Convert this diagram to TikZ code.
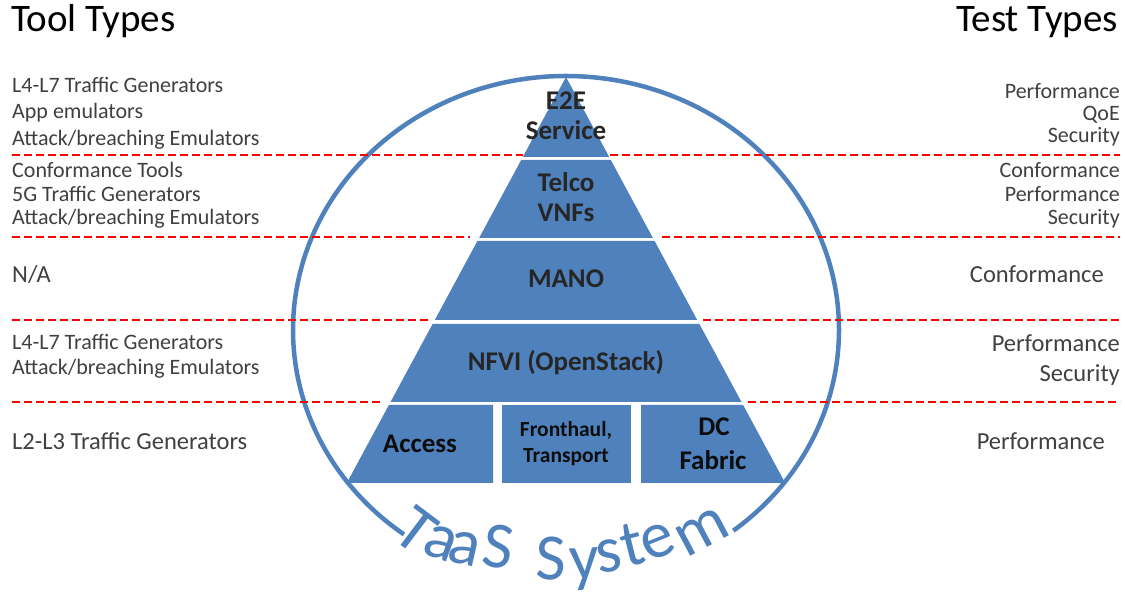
\documentclass[tikz,border=0pt]{standalone}
\usepackage{fontspec}
\setmainfont{Carlito}
\definecolor{pyr}{HTML}{4F81BD}
\definecolor{ring}{HTML}{4F81BD}
\definecolor{txtgray}{HTML}{404040}
\definecolor{pyrtxt}{HTML}{262626}
\definecolor{pyrdark}{HTML}{0D0D0D}
\begin{document}
\begin{tikzpicture}[x=1pt,y=1pt,
  lbl/.style={inner sep=0pt, text=txtgray, font=\fontsize{22}{26}\selectfont},
  big/.style={font=\fontsize{24.5}{29}\selectfont},
  lleft/.style={lbl, anchor=base west},
  lright/.style={lbl, anchor=base east},
  ttl/.style={inner sep=0pt, text=black, font=\fontsize{39}{46}\selectfont},
  layer/.style={fill=pyr, draw=none},
  ptxt/.style={inner sep=0pt, anchor=base, text=pyrtxt, font=\bfseries\fontsize{27}{31}\selectfont},
  pdark/.style={ptxt, text=pyrdark},
  psmall/.style={pdark, font=\bfseries\fontsize{21.5}{25}\selectfont},
  taas/.style={inner sep=0pt, anchor=base, text=ring, font=\fontsize{66}{66}\selectfont},
  sep/.style={draw=red, line width=2.2pt, dash pattern=on 8pt off 4pt}]
\useasboundingbox (0,0) rectangle (1125,592);
\fill[white] (0,0) rectangle (1125,592);

% ring
\draw[ring, line width=4.5pt] (566,262) ++(307.8:273 and 254)
  arc[start angle=307.8, end angle=593.6, x radius=273, y radius=254];

% TaaS System (letters along the bottom arc)
\node[taas, rotate=-37] (c1) at (403,45) {T};
\node[taas, rotate=-20] (c2) at (435,34) {a};
\node[taas, rotate=-13] (c3) at (461,28) {a};
\node[taas, rotate=-8]  (c4) at (496,24) {S};
\node[taas, rotate=-1]  (c5) at (551,12) {S};
\node[taas, rotate=3]   (c6) at (585,12) {y};
\node[taas, rotate=8]   (c7) at (611,20) {s};
\node[taas, rotate=14]  (c8) at (637,27) {t};
\node[taas, rotate=22]  (c9) at (664,36) {e};
\node[taas, rotate=28]  (c10) at (710,46) {m};

% separators
\draw[sep] (12,437) -- (523,437);  \draw[sep] (610,437) -- (1120,437);
\draw[sep] (12,355) -- (470,355);  \draw[sep] (662,355) -- (1120,355);
\draw[sep] (12,272) -- (430,272);  \draw[sep] (703,272) -- (1120,272);
\draw[sep] (12,190) -- (382,190);  \draw[sep] (748,190) -- (1120,190);

% pyramid
\path[layer] (566,515) -- (609.2,435) -- (522.8,435) -- cycle;
\path[layer] (521.2,432) -- (610.8,432) -- (652.9,354) -- (479.1,354) -- cycle;
\path[layer] (477.4,351) -- (654.6,351) -- (697.2,272) -- (434.8,272) -- cycle;
\path[layer] (432.6,268) -- (699.4,268) -- (741.5,190) -- (390.5,190) -- cycle;
\path[layer] (388.9,187) -- (493,187) -- (493,109) -- (346.8,109) -- cycle;
\path[layer] (502,109) rectangle (631,187);
\path[layer] (641,187) -- (743.1,187) -- (785.2,109) -- (641,109) -- cycle;

% pyramid labels
\node[ptxt] (e2ea) at (566,482) {E2E};
\node[ptxt] (e2eb) at (566,452) {Service};
\node[ptxt] (telcoa) at (566,400) {Telco};
\node[ptxt] (telcob) at (566,370) {VNFs};
\node[ptxt] (mano) at (566,304) {MANO};
\node[ptxt] (nfvi) at (566,221) {NFVI (OpenStack)};
\node[pdark] (access) at (420,139) {Access};
\node[psmall] (fronta) at (566,155) {Fronthaul,};
\node[psmall] (frontb) at (566,129) {Transport};
\node[pdark] (dca) at (714,156) {DC};
\node[pdark] (dcb) at (713,122) {Fabric};

% titles
\node[ttl, anchor=base west] (tool) at (11,560) {Tool Types};
\node[ttl, anchor=base east] (test) at (1118,560) {Test Types};

% tool types
\node[lleft] (t1a) at (12,499) {L4-L7 Traffic Generators};
\node[lleft] (t1b) at (12,473) {App emulators};
\node[lleft] (t1c) at (12,446) {Attack/breaching Emulators};
\node[lleft] (t2a) at (12,414) {Conformance Tools};
\node[lleft] (t2b) at (12,390) {5G Traffic Generators};
\node[lleft] (t2c) at (12,367) {Attack/breaching Emulators};
\node[lleft, big] (t3a) at (12,309) {N/A};
\node[lleft] (t4a) at (12,242) {L4-L7 Traffic Generators};
\node[lleft] (t4b) at (12,217) {Attack/breaching Emulators};
\node[lleft, big] (t5a) at (12,142) {L2-L3 Traffic Generators};

% test types
\node[lright] (s1a) at (1120,493) {Performance};
\node[lright] (s1b) at (1120,471) {QoE};
\node[lright] (s1c) at (1120,449) {Security};
\node[lright] (s2a) at (1120,414) {Conformance};
\node[lright] (s2b) at (1120,390) {Performance};
\node[lright] (s2c) at (1120,367) {Security};
\node[lright, big] (s3a) at (1104,309) {Conformance};
\node[lright, big] (s4a) at (1120,240) {Performance};
\node[lright, big] (s4b) at (1120,210) {Security};
\node[lright, big] (s5a) at (1105,142) {Performance};
\end{tikzpicture}
\end{document}
